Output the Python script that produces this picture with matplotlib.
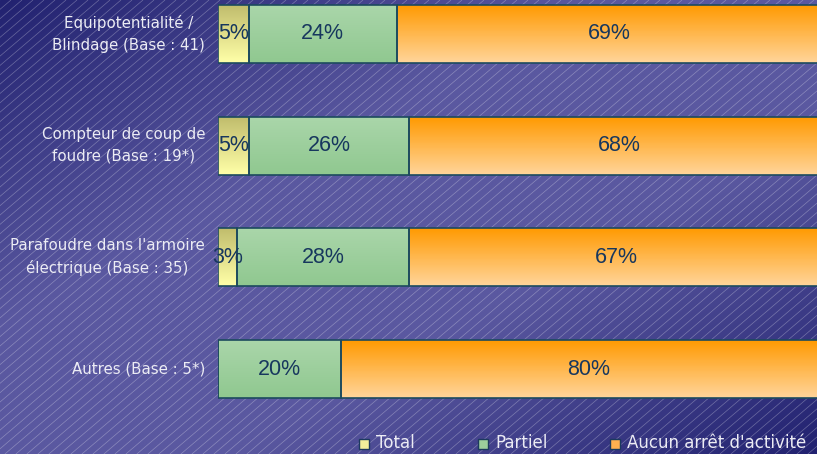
import numpy as np
import matplotlib.pyplot as plt
from matplotlib.colors import LinearSegmentedColormap
from matplotlib.patches import Rectangle
from matplotlib.collections import LineCollection

categories = ["Equipotentialité /\nBlindage (Base : 41)",
              "Compteur de coup de\nfoudre (Base : 19*)",
              "Parafoudre dans l'armoire\nélectrique (Base : 35)",
              "Autres (Base : 5*)"]
total = [5, 5, 3, 0]
partiel = [24, 26, 28, 20]
aucun = [69, 68, 67, 80]
series_names = ["Total", "Partiel", "Aucun arrêt d'activité"]

W, H = 817, 454
fig = plt.figure(figsize=(W / 100, H / 100), dpi=100)

# background: dark corners, lighter along the anti-diagonal, thin white stripes
bg = fig.add_axes([0, 0, 1, 1], zorder=-5)
xx, yy = np.meshgrid(np.linspace(0, 1, 200), np.linspace(0, 1, 120))
s = 1 - np.abs(xx + yy - 1)
dark = np.array([0x22, 0x22, 0x70]) / 255
light = np.array([0x5a, 0x58, 0xa0]) / 255
t = np.clip(s * 1.4, 0, 1)[..., None]
img = dark + (light - dark) * t
bg.imshow(img, extent=[0, W, H, 0], aspect='auto', interpolation='bilinear')
slope = 0.85
segs = []
for x0 in np.arange(-H / slope, W, 11):
    segs.append([(x0, H), (x0 + H / slope, 0)])
bg.add_collection(LineCollection(segs, colors='white', linewidths=0.5, alpha=0.3))
bg.set_xlim(0, W)
bg.set_ylim(H, 0)
bg.axis('off')

# main axes
ax = fig.add_axes([218 / W, (H - 425) / H, 599 / W, 447 / H])
ax.patch.set_alpha(0)
y = np.arange(len(categories))
bh = 0.52

grads = [("#c0bc6c", "#ffffa8"), ("#aad6aa", "#90c890"), ("#ff9a00", "#ffd49a")]
left = np.zeros(len(categories))
for vals, (ctop, cbot) in zip([total, partiel, aucun], grads):
    vals = np.array(vals, dtype=float)
    cmap = LinearSegmentedColormap.from_list("g", [ctop, cbot])
    bars = ax.barh(y, vals, left=left, height=bh, facecolor='none',
                   edgecolor='#1c4a5e', linewidth=1.2, zorder=3)
    for b, v, l, yc in zip(bars, vals, left, y):
        if v == 0:
            continue
        im = ax.imshow(np.linspace(0, 1, 50)[:, None], cmap=cmap, aspect='auto',
                       extent=(l, l + v, yc + bh / 2, yc - bh / 2), origin='upper', zorder=2)
        im.set_clip_path(b)
        ax.text(l + v / 2, yc, f"{int(v)}%", ha='center', va='center',
                fontsize=15.5, color='#17375e', family='Liberation Sans', zorder=4)
    left += vals

ax.set_xlim(0, 97.1)
ax.set_ylim(len(categories) - 0.5, -0.5)
ax.axis('off')

for yc, lab in zip(y, categories):
    ax.text(-13 / 6.17, yc, lab, ha='right', va='center', multialignment='center',
            fontsize=10.8, color='#ececf4', linespacing=1.55)

# legend placed by hand to match the spacing of the original
leg_colors = ["#f0f09a", "#9ccf9c", "#ffb050"]
leg_x = [359, 478, 610]
for name, c, lx in zip(series_names, leg_colors, leg_x):
    fig.patches.append(Rectangle((lx / W, (H - 449) / H), 10 / W, 10 / H, facecolor=c,
                                 edgecolor='#1c3a5e', linewidth=1,
                                 transform=fig.transFigure, figure=fig))
    fig.text((lx + 17) / W, (H - 443) / H, name, ha='left', va='center',
             fontsize=12, color='#ececf4')

fig.savefig("out.png", dpi=100)
